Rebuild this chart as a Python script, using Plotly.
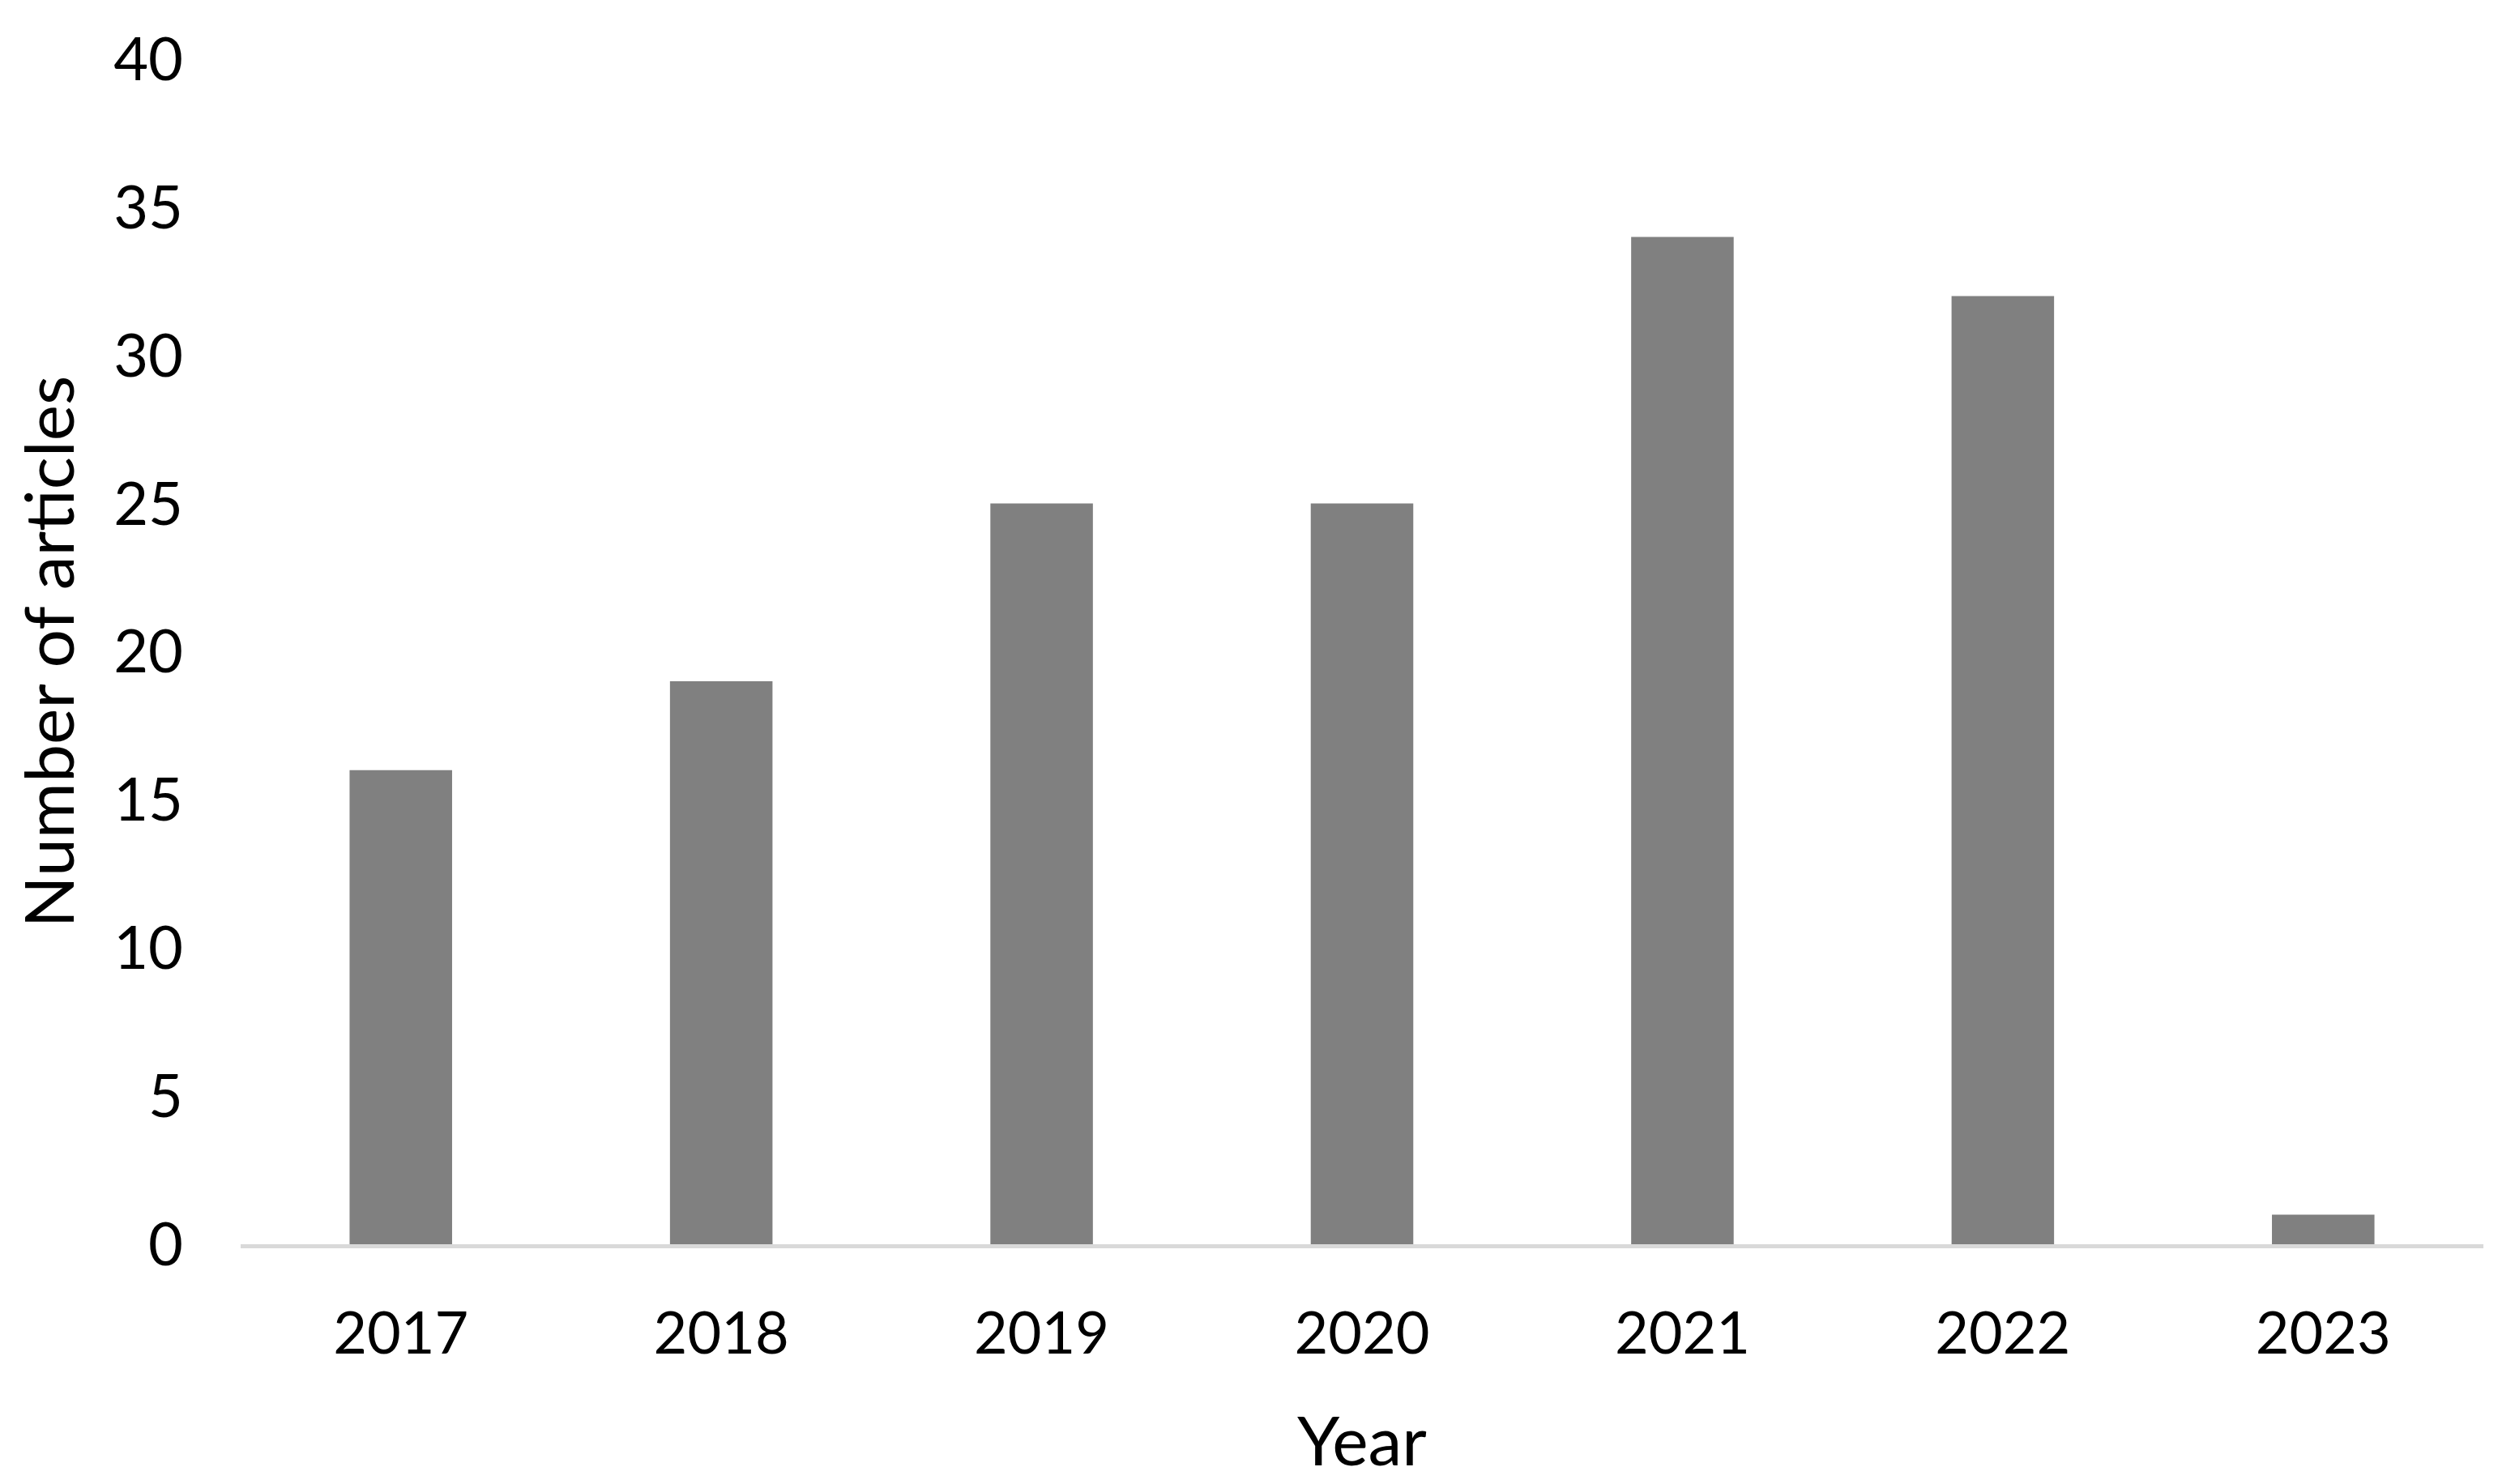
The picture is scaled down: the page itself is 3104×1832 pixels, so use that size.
import plotly.graph_objects as go

years = ["2017", "2018", "2019", "2020", "2021", "2022", "2023"]
articles = [16, 19, 25, 25, 34, 32, 1]
y_ticks = [0, 5, 10, 15, 20, 25, 30, 35, 40]

FONT = "Lato, 'Liberation Sans', sans-serif"

fig = go.Figure(
    go.Bar(x=years, y=articles, marker=dict(color="#808080", line=dict(width=0)), width=0.32)
)

fig.update_layout(
    width=3104,
    height=1832,
    margin=dict(l=289, r=47, t=65, b=304),
    paper_bgcolor="white",
    plot_bgcolor="white",
    font=dict(family=FONT, size=72, color="#000000"),
    showlegend=False,
)

fig.update_xaxes(
    type="category",
    range=[-0.5, 6.5],
    showline=True,
    linecolor="#d9d9d9",
    linewidth=5,
    layer="below traces",
    showgrid=False,
    ticks="",
    ticklabelstandoff=44,
    tickfont=dict(size=72),
    title=dict(text="Year", font=dict(size=84), standoff=66),
)

fig.update_yaxes(
    range=[0, 40],
    tickvals=y_ticks,
    showline=False,
    showgrid=False,
    zeroline=False,
    ticks="",
    ticklabelstandoff=70,
    tickfont=dict(size=74),
    title=dict(text="Number of articles", font=dict(size=84), standoff=26),
)

fig.write_html("out.html")
